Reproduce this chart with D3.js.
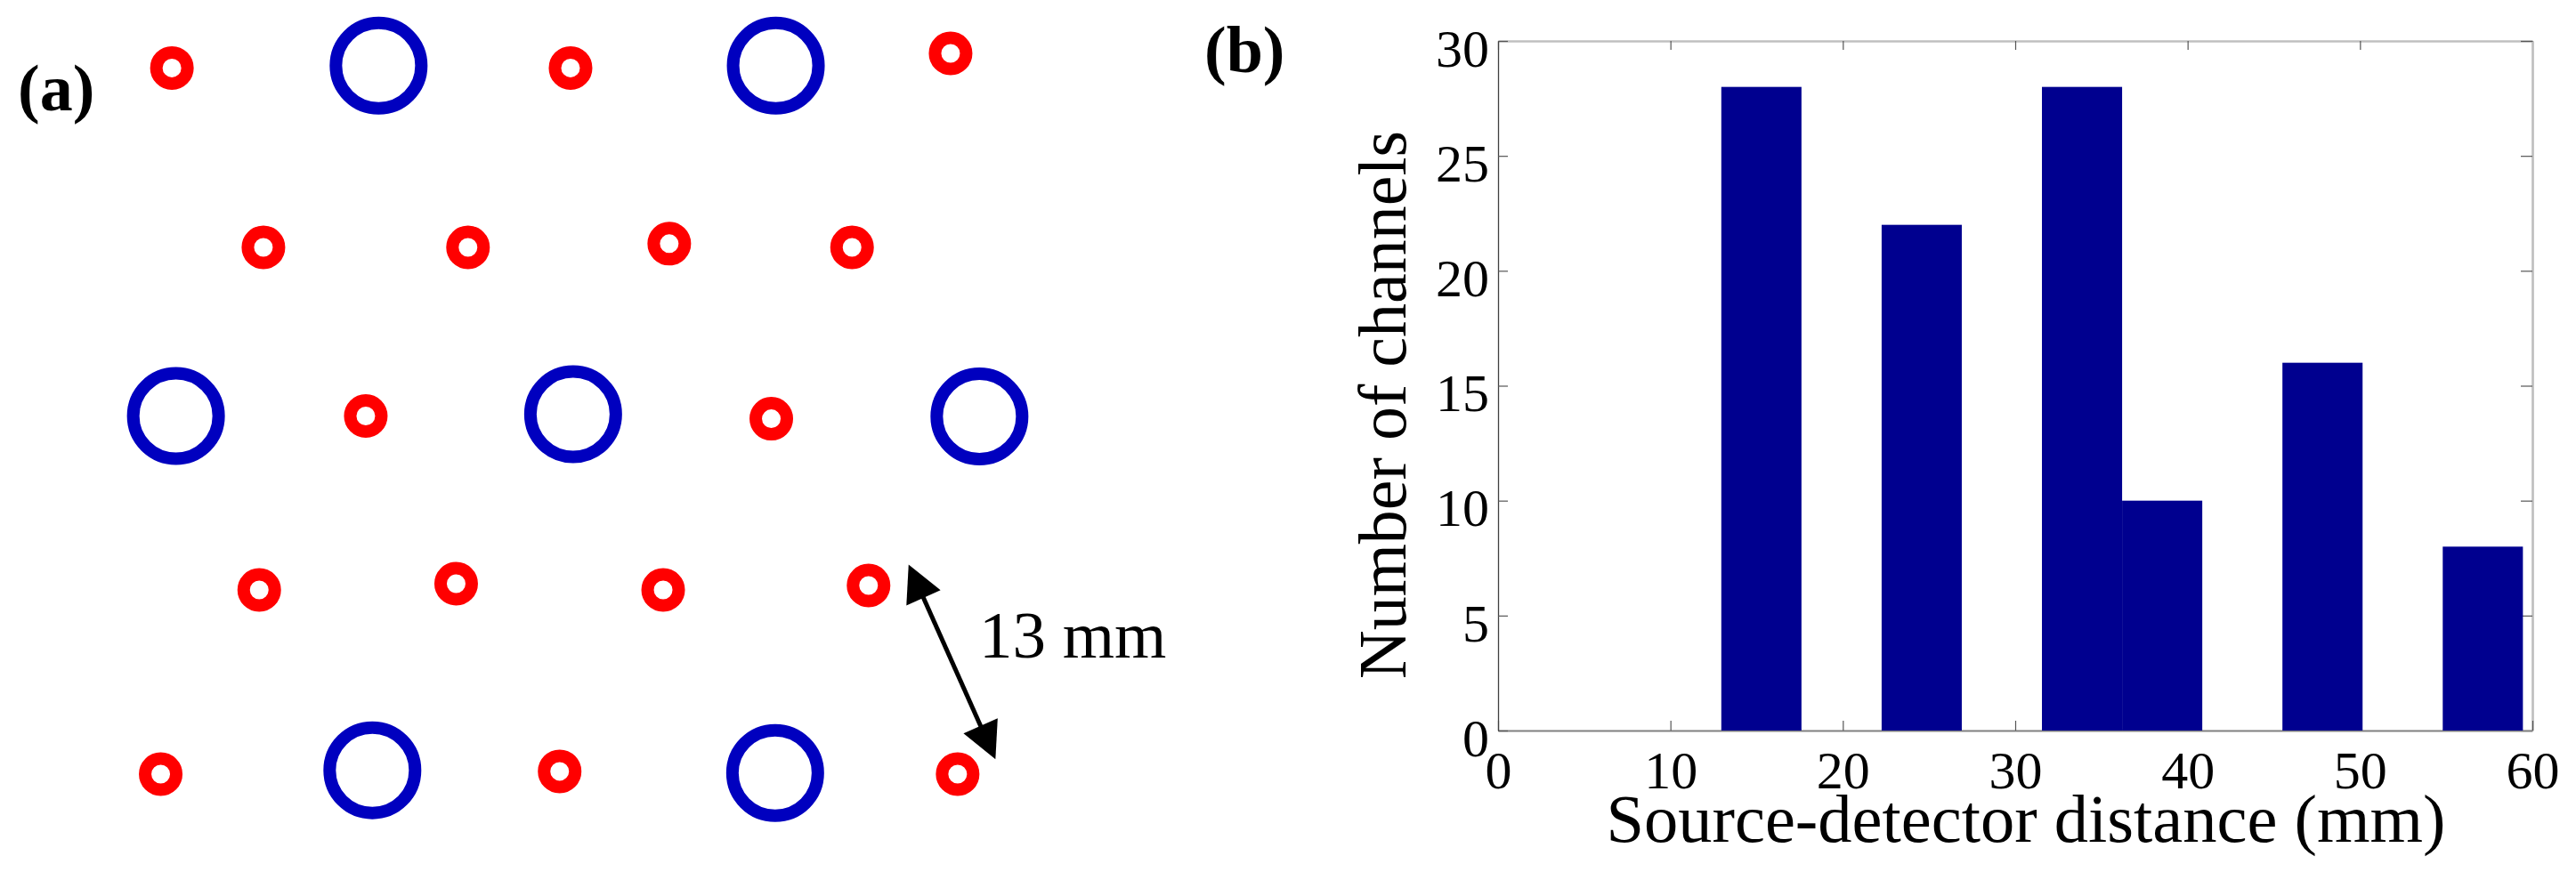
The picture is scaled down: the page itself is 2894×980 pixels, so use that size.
<!DOCTYPE html>
<html>
<head>
<meta charset="utf-8">
<script src="https://cdn.jsdelivr.net/npm/d3@7/dist/d3.min.js"></script>
<style>
  html, body { margin: 0; padding: 0; background: #fff; }
  svg { display: block; }
  text { font-family: "Liberation Serif", "Times New Roman", serif; fill: #000; }
</style>
</head>
<body>
<svg id="chart" width="2894" height="980"></svg>
<script>
// ---------- Panel (a): probe layout (positions in mm) ----------
const detectorX = [0.73, 25.61, 49.33, 6.44, 19.21, 31.77, 43.18, 12.83, 38.14, 6.18, 18.47, 31.39, 44.21, 0.03, 24.93, 49.77];
const detectorY = [0.91, 0.91, 0.0, 12.11, 12.11, 11.88, 12.11, 22.64, 22.81, 33.5, 33.11, 33.5, 33.22, 45.0, 44.83, 45.0];
const sourceX = [13.63, 38.42, 0.98, 25.77, 51.13, 13.24, 38.38];
const sourceY = [0.77, 0.77, 22.64, 22.53, 22.67, 44.76, 44.93];
const arrowFrom = [46.71, 31.91];
const arrowTo = [52.13, 44.07];
const arrowLabel = "13 mm";
const arrowLabelPos = [51.11, 37.72];

// ---------- Panel (b): histogram ----------
const binCenters = [15.275, 19.925, 24.575, 29.225, 33.875, 38.525, 43.175, 47.825, 52.475, 57.125];
const binCounts = [28, 0, 22, 0, 28, 10, 0, 16, 0, 8];
const binWidth = 4.65;
const xTicks = [0, 10, 20, 30, 40, 50, 60];
const yTicks = [0, 5, 10, 15, 20, 25, 30];
const xLabel = "Source-detector distance (mm)";
const yLabel = "Number of channels";

const svg = d3.select("#chart");

// ===== Panel (a) =====
const xA = d3.scaleLinear().domain([0, 50]).range([180, 1080]);
const yA = d3.scaleLinear().domain([0, 50]).range([60, 960]);
const gA = svg.append("g");

gA.append("text").attr("x", 20).attr("y", 124)
  .style("font-size", "74px").style("font-weight", "bold").text("(a)");

gA.selectAll("circle.src").data(d3.range(sourceX.length)).join("circle")
  .attr("class", "src")
  .attr("cx", i => xA(sourceX[i])).attr("cy", i => yA(sourceY[i]))
  .attr("r", 48).attr("fill", "none").attr("stroke", "#0000BF").attr("stroke-width", 14);

gA.selectAll("circle.det").data(d3.range(detectorX.length)).join("circle")
  .attr("class", "det")
  .attr("cx", i => xA(detectorX[i])).attr("cy", i => yA(detectorY[i]))
  .attr("r", 17.5).attr("fill", "none").attr("stroke", "#FF0000").attr("stroke-width", 14);

// double arrow
(function () {
  const p1 = [xA(arrowFrom[0]), yA(arrowFrom[1])];
  const p2 = [xA(arrowTo[0]), yA(arrowTo[1])];
  const dx = p2[0] - p1[0], dy = p2[1] - p1[1];
  const L = Math.hypot(dx, dy);
  const ux = dx / L, uy = dy / L, nx = -uy, ny = ux;
  const hl = 41, hw = 21;
  const b1 = [p1[0] + ux * hl, p1[1] + uy * hl];
  const b2 = [p2[0] - ux * hl, p2[1] - uy * hl];
  gA.append("line").attr("x1", b1[0] - ux * 4).attr("y1", b1[1] - uy * 4)
    .attr("x2", b2[0] + ux * 4).attr("y2", b2[1] + uy * 4)
    .attr("stroke", "#000").attr("stroke-width", 5);
  const tri = (tip, base) => [tip, [base[0] + nx * hw, base[1] + ny * hw], [base[0] - nx * hw, base[1] - ny * hw]];
  gA.selectAll("polygon").data([tri(p1, b1), tri(p2, b2)]).join("polygon")
    .attr("points", d => d.map(p => p.join(",")).join(" "))
    .attr("fill", "#000");
  gA.append("text").attr("x", xA(arrowLabelPos[0])).attr("y", yA(arrowLabelPos[1]))
    .style("font-size", "75px").text(arrowLabel);
})();

// ===== Panel (b) =====
const x = d3.scaleLinear().domain([0, 60]).range([1683, 2845]);
const y = d3.scaleLinear().domain([0, 30]).range([821, 46]);
const gB = svg.append("g");

gB.append("text").attr("x", 1353).attr("y", 81)
  .style("font-size", "74px").style("font-weight", "bold").text("(b)");

// top & right axes (ticks only)
const topAx = gB.append("g").attr("transform", `translate(0,${y(30)})`)
  .call(d3.axisTop(x).tickValues(xTicks).tickSizeInner(-10).tickSizeOuter(0).tickFormat(""));
const rightAx = gB.append("g").attr("transform", `translate(${x(60)},0)`)
  .call(d3.axisRight(y).tickValues(yTicks).tickSizeInner(-13).tickSizeOuter(0).tickFormat(""));
[topAx, rightAx].forEach(g => {
  g.select(".domain").attr("stroke", "#c0c0c0").attr("stroke-width", 2.7);
  g.selectAll(".tick line").attr("stroke", "#555").attr("stroke-width", 1.2);
});

const botAx = gB.append("g").attr("transform", `translate(0,${y(0)})`)
  .call(d3.axisBottom(x).tickValues(xTicks).tickSizeInner(-11).tickSizeOuter(0).tickPadding(22));
botAx.select(".domain").attr("stroke", "#808080").attr("stroke-width", 2);
botAx.selectAll(".tick line").attr("stroke", "#555").attr("stroke-width", 1.2);
botAx.selectAll(".tick text").style("font-size", "60px").attr("fill", "#000")
  .style("font-family", "'Liberation Serif', 'Times New Roman', serif");

const leftAx = gB.append("g").attr("transform", `translate(${x(0)},0)`)
  .call(d3.axisLeft(y).tickValues(yTicks).tickSizeInner(-11).tickSizeOuter(0).tickPadding(10));
leftAx.select(".domain").attr("stroke", "#404040").attr("stroke-width", 1.3);
leftAx.selectAll(".tick line").attr("stroke", "#555").attr("stroke-width", 1.2);
leftAx.selectAll(".tick text").style("font-size", "60px").attr("fill", "#000").attr("dy", "0.47em")
  .style("font-family", "'Liberation Serif', 'Times New Roman', serif");

// bars
gB.selectAll("rect.bar").data(d3.range(binCenters.length)).join("rect")
  .attr("class", "bar")
  .attr("x", i => x(binCenters[i] - binWidth / 2))
  .attr("width", i => x(binCenters[i] + binWidth / 2) - x(binCenters[i] - binWidth / 2))
  .attr("y", i => y(binCounts[i]))
  .attr("height", i => y(0) - y(binCounts[i]))
  .attr("fill", "#00008F");

// axis labels
gB.append("text").attr("x", 2276).attr("y", 946).attr("text-anchor", "middle")
  .style("font-size", "76.5px").text(xLabel);
gB.append("text").attr("transform", "translate(1579,455) rotate(-90)").attr("text-anchor", "middle")
  .style("font-size", "76px").text(yLabel);
</script>
</body>
</html>
